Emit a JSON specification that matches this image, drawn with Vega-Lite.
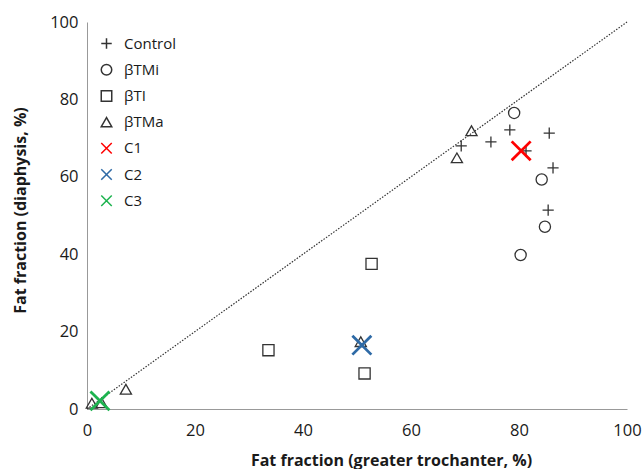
{
  "$schema": "https://vega.github.io/schema/vega-lite/v6.json",
  "width": 540,
  "height": 387,
  "autosize": "none",
  "padding": {"left": 87, "top": 22, "right": 17, "bottom": 60},
  "background": "white",
  "config": {
    "view": {"stroke": null},
    "font": "Open Sans",
    "axis": {"grid": false, "ticks": false, "labelFlush": false, "domainColor": "#999999", "domainWidth": 1, "labelColor": "#1a1a1a", "labelFontSize": 16.5, "labelFont": "Open Sans", "titleFont": "Open Sans", "titleFontSize": 16, "titleFontWeight": "bold", "titleColor": "#1a1a1a"}
  },
  "datasets": {
    "points": [
      {"group": "Control", "gt": 69.3, "dia": 68.0},
      {"group": "Control", "gt": 74.8, "dia": 69.0},
      {"group": "Control", "gt": 78.3, "dia": 72.1},
      {"group": "Control", "gt": 85.6, "dia": 71.3},
      {"group": "Control", "gt": 81.3, "dia": 66.7},
      {"group": "Control", "gt": 86.3, "dia": 62.3},
      {"group": "Control", "gt": 85.4, "dia": 51.4},
      {"group": "βTMi", "gt": 79.1, "dia": 76.5},
      {"group": "βTMi", "gt": 84.2, "dia": 59.3},
      {"group": "βTMi", "gt": 84.8, "dia": 47.1},
      {"group": "βTMi", "gt": 80.3, "dia": 39.8},
      {"group": "βTI", "gt": 52.7, "dia": 37.5},
      {"group": "βTI", "gt": 33.6, "dia": 15.2},
      {"group": "βTI", "gt": 51.4, "dia": 9.2},
      {"group": "βTMa", "gt": 71.2, "dia": 71.9},
      {"group": "βTMa", "gt": 68.5, "dia": 64.9},
      {"group": "βTMa", "gt": 50.7, "dia": 17.4},
      {"group": "βTMa", "gt": 7.2, "dia": 5.1},
      {"group": "βTMa", "gt": 0.9, "dia": 1.5},
      {"group": "βTMa", "gt": 2.7, "dia": 1.6},
      {"group": "C1", "gt": 80.4, "dia": 66.7},
      {"group": "C2", "gt": 50.9, "dia": 16.5},
      {"group": "C3", "gt": 2.4, "dia": 2.1}
    ],
    "diag": [{"gt": 0, "dia": 0}, {"gt": 100, "dia": 100}]
  },
  "encoding": {
    "x": {"field": "gt", "type": "quantitative", "scale": {"domain": [0, 100], "nice": false}, "axis": {"values": [0, 20, 40, 60, 80, 100], "labelPadding": 13, "title": "Fat fraction (greater trochanter, %)", "titleX": 304, "titleY": 51, "titleBaseline": "middle", "titleAnchor": "middle"}},
    "y": {"field": "dia", "type": "quantitative", "scale": {"domain": [0, 100], "nice": false}, "axis": {"values": [0, 20, 40, 60, 80, 100], "labelPadding": 9, "title": "Fat fraction (diaphysis, %)", "titleX": -67, "titleY": 188, "titleAnchor": "middle", "titleBaseline": "middle"}}
  },
  "layer": [
    {
      "data": {"name": "diag"},
      "mark": {"type": "line", "color": "#333333", "strokeWidth": 1.2, "strokeDash": [1.5, 1.5]}
    },
    {
      "data": {"name": "points"},
      "transform": [{"filter": "indexof(['C1','C2','C3'], datum.group) < 0"}],
      "mark": {"type": "point", "filled": false, "opacity": 1, "size": 125, "strokeWidth": 1.3},
      "encoding": {
        "color": {"field": "group", "type": "nominal", "scale": {"domain": ["Control", "βTMi", "βTI", "βTMa", "C1", "C2", "C3"], "range": ["#333333", "#333333", "#333333", "#333333", "#ff0000", "#2e6aa6", "#1db34f"]}, "legend": {"title": null, "orient": "none", "legendX": 12, "legendY": 14, "labelFontSize": 15, "labelFont": "Open Sans", "labelColor": "#1a1a1a", "symbolSize": 110, "symbolStrokeWidth": 1.5, "rowPadding": 9.2, "labelOffset": 10}},
        "shape": {"field": "group", "type": "nominal", "scale": {"domain": ["Control", "βTMi", "βTI", "βTMa", "C1", "C2", "C3"], "range": ["M-1,0H1M0,-1V1", "circle", "square", "triangle-up", "M-1,-1L1,1M-1,1L1,-1", "M-1,-1L1,1M-1,1L1,-1", "M-1,-1L1,1M-1,1L1,-1"]}}
      }
    },
    {
      "data": {"name": "points"},
      "transform": [{"filter": "indexof(['C1','C2','C3'], datum.group) >= 0"}],
      "mark": {"type": "point", "filled": false, "opacity": 1, "size": 360, "strokeWidth": 2.8},
      "encoding": {
        "color": {"field": "group", "type": "nominal"},
        "shape": {"field": "group", "type": "nominal"}
      }
    }
  ]
}
